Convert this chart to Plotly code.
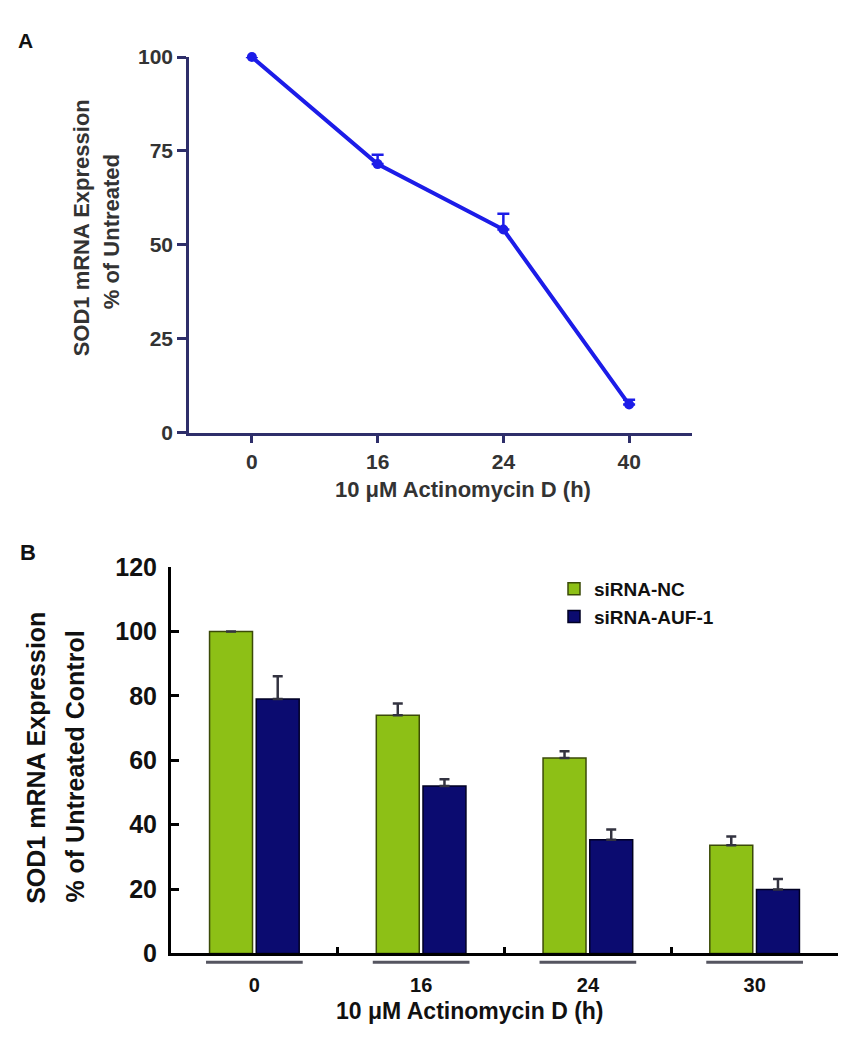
import plotly.graph_objects as go

W, H = 846, 1050

# ---------- Data ----------
# Panel A
a_times = ["0", "16", "24", "40"]
a_values = [100, 71.5, 54.1, 7.5]
a_err = [0, 2.5, 4.2, 1.3]

# Panel B
b_times = ["0", "16", "24", "30"]
b_nc = [100, 74.0, 60.7, 33.6]
b_nc_err = [0, 3.6, 2.1, 2.7]
b_auf = [79.0, 52.0, 35.3, 19.9]
b_auf_err = [7.1, 2.1, 3.2, 3.2]
series_names = ["siRNA-NC", "siRNA-AUF-1"]

FONT = "Liberation Sans, Arial, Helvetica, sans-serif"


def px_x(p):
    return p / W


def px_y(p):
    return 1 - p / H


def label(text, x, y, size, color, angle=0):
    return dict(text=text, x=px_x(x), y=px_y(y), xref="paper", yref="paper",
                xanchor="center", yanchor="middle", showarrow=False,
                textangle=angle,
                font=dict(family=FONT, size=size, color=color, weight="bold"))


fig = go.Figure()

# ---------- Panel A ----------
fig.add_trace(go.Scatter(
    x=a_times, y=a_values, mode="lines+markers",
    line=dict(color="#1c1ce8", width=4),
    marker=dict(color="#1c1ce8", size=10),
    error_y=dict(type="data", symmetric=False, array=a_err,
                 arrayminus=[0] * len(a_err), color="#1c1ce8",
                 thickness=2.5, width=6),
    showlegend=False, cliponaxis=False,
    xaxis="x", yaxis="y",
))

# ---------- Panel B ----------
fig.add_trace(go.Bar(
    x=b_times, y=b_nc, name=series_names[0],
    marker=dict(color="#8dc016", line=dict(color="#3b4a08", width=1.5)),
    error_y=dict(type="data", symmetric=False, array=b_nc_err,
                 arrayminus=[0] * len(b_nc_err), color="#333340",
                 thickness=2.5, width=5),
    xaxis="x2", yaxis="y2",
))
fig.add_trace(go.Bar(
    x=b_times, y=b_auf, name=series_names[1],
    marker=dict(color="#0b0b70", line=dict(color="#000022", width=1.5)),
    error_y=dict(type="data", symmetric=False, array=b_auf_err,
                 arrayminus=[0] * len(b_auf_err), color="#333340",
                 thickness=2.5, width=5),
    xaxis="x2", yaxis="y2",
))

# group underlines under each category
shapes = []
for i, _ in enumerate(b_times):
    shapes.append(dict(type="line", xref="x2", yref="paper",
                       x0=i - 0.29, x1=i + 0.29,
                       y0=px_y(966), y1=px_y(966),
                       line=dict(color="#555560", width=3)))

annotations = [
    label("A", 17, 19, 21, "#111"),
    label("B", 20, 545, 22, "#111"),
    label("SOD1 mRNA Expression", 73, 212, 22, "#333", -90),
    label("% of Untreated", 103, 216, 22, "#333", -90),
    label("10 μM Actinomycin D (h)", 455, 480, 22, "#333"),
    label("SOD1 mRNA Expression", 28, 756, 25, "#111", -90),
    label("% of Untreated Control", 67, 765, 25, "#111", -90),
    label("10 μM Actinomycin D (h)", 462, 1016, 23, "#111"),
]

fig.update_layout(
    width=W, height=H,
    margin=dict(l=0, r=0, t=0, b=0),
    paper_bgcolor="white", plot_bgcolor="white",
    font=dict(family=FONT),
    barmode="group", bargap=0.44, bargroupgap=0.08,
    shapes=shapes, annotations=annotations,
    legend=dict(x=px_x(546), y=px_y(563), xanchor="left", yanchor="top",
                bgcolor="rgba(0,0,0,0)", itemwidth=30, tracegroupgap=4,
                font=dict(family=FONT, size=19, color="#111", weight="bold")),
    xaxis=dict(domain=[px_x(181), px_x(684)], anchor="y", type="category",
               range=[-0.5, 3.5], showline=True, linecolor="#2e2e6a", linewidth=2.5,
               ticks="outside", ticklen=8, tickwidth=2.5, tickcolor="#2e2e6a",
               tickfont=dict(family=FONT, size=21, color="#333", weight="bold"),
               showgrid=False, zeroline=False),
    yaxis=dict(domain=[px_y(422), px_y(36)], anchor="x", range=[0, 100],
               tickvals=[0, 25, 50, 75, 100], showline=True, linecolor="#2e2e6a",
               linewidth=2.5, ticks="outside", ticklen=9, tickwidth=2.5,
               tickcolor="#2e2e6a",
               tickfont=dict(family=FONT, size=21, color="#333", weight="bold"),
               showgrid=False, zeroline=False),
    xaxis2=dict(domain=[px_x(163), px_x(830)], anchor="y2", type="category",
                range=[-0.5, 3.5], showline=True, linecolor="#000", linewidth=3,
                ticks="inside", tickson="boundaries", ticklen=6, tickwidth=3,
                tickcolor="#000", ticklabelstandoff=12,
                tickfont=dict(family=FONT, size=20, color="#111", weight="bold"),
                showgrid=False, zeroline=False),
    yaxis2=dict(domain=[px_y(957), px_y(560)], anchor="x2", range=[0, 120],
                tickvals=[0, 20, 40, 60, 80, 100, 120], showline=True,
                linecolor="#000", linewidth=3, ticks="inside", ticklen=8,
                tickwidth=3, tickcolor="#000", ticklabelstandoff=6,
                tickfont=dict(family=FONT, size=25, color="#111", weight="bold"),
                showgrid=False, zeroline=False),
)

fig.write_html("out.html")
